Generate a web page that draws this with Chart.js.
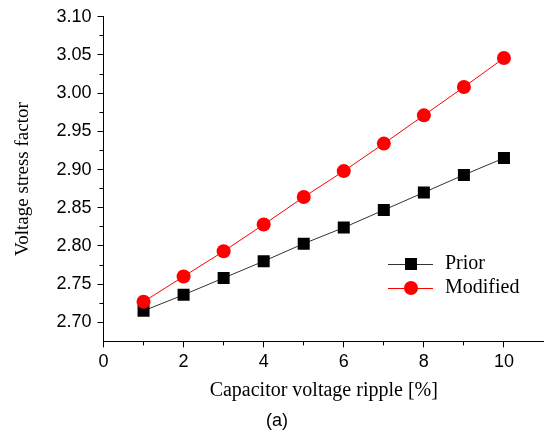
<!DOCTYPE html>
<html>
<head>
<meta charset="utf-8">
<script src="https://cdn.jsdelivr.net/npm/chart.js@4.4.1/dist/chart.umd.min.js"></script>
<style>
  html, body { margin: 0; padding: 0; background: #fff; }
  #wrap { width: 544px; height: 432px; position: relative; }
</style>
</head>
<body>
<div id="wrap"><canvas id="chart"></canvas></div>
<script>
// Data
const rippleX = [1, 2, 3, 4, 5, 6, 7, 8, 9, 10];
const priorY = [2.715, 2.736, 2.758, 2.780, 2.803, 2.824, 2.847, 2.870, 2.893, 2.915];
const modifiedY = [2.727, 2.760, 2.793, 2.828, 2.864, 2.898, 2.934, 2.971, 3.008, 3.046];

// Axis ticks
const xMajorTicks = [0, 2, 4, 6, 8, 10];
const xTickLabels = ['0', '2', '4', '6', '8', '10'];
const xMinorTicks = [1, 3, 5, 7, 9];
const yMajorTicks = [2.70, 2.75, 2.80, 2.85, 2.90, 2.95, 3.00, 3.05, 3.10];
const yTickLabels = ['2.70', '2.75', '2.80', '2.85', '2.90', '2.95', '3.00', '3.05', '3.10'];
const yMinorTicks = [2.725, 2.775, 2.825, 2.875, 2.925, 2.975, 3.025, 3.075];

const TICK_FONT = { family: "'Liberation Sans', Arial, sans-serif", size: 18 };
const SERIF = "'Liberation Serif', 'Times New Roman', serif";

function toPoints(xs, ys) {
  return xs.map((x, i) => ({ x, y: ys[i] }));
}

// small outward minor ticks on both axes
const minorTicks = {
  id: 'minorTicks',
  afterDraw(chart) {
    const { ctx, scales: { x, y } } = chart;
    const align = p => Math.round(p - 0.5) + 0.5;
    ctx.save();
    ctx.strokeStyle = '#000';
    ctx.lineWidth = 1;
    ctx.beginPath();
    xMinorTicks.forEach(v => {
      const px = align(x.getPixelForValue(v));
      ctx.moveTo(px, x.top);
      ctx.lineTo(px, x.top + 4);
    });
    yMinorTicks.forEach(v => {
      const py = align(y.getPixelForValue(v));
      ctx.moveTo(y.right - 4, py);
      ctx.lineTo(y.right, py);
    });
    ctx.stroke();
    ctx.restore();
  }
};

// legend inside the plot, lower right
const insideLegend = {
  id: 'insideLegend',
  afterDraw(chart) {
    const { ctx } = chart;
    const x0 = 388, x1 = 433, mx = 411, tx = 445;
    let ty = 264;
    ctx.save();
    chart.data.datasets.forEach(ds => {
      ctx.strokeStyle = ds.borderColor;
      ctx.lineWidth = 1;
      ctx.beginPath();
      ctx.moveTo(x0, ty + 0.5);
      ctx.lineTo(x1, ty + 0.5);
      ctx.stroke();
      ctx.fillStyle = ds.pointBackgroundColor;
      if (ds.pointStyle === 'rect') {
        ctx.fillRect(mx - 6, ty - 6, 12, 12);
      } else {
        ctx.beginPath();
        ctx.arc(mx, ty, 7, 0, Math.PI * 2);
        ctx.fill();
      }
      ctx.fillStyle = '#000';
      ctx.font = '20px ' + SERIF;
      ctx.textBaseline = 'middle';
      ctx.fillText(ds.label, tx, ty);
      ty += 24;
    });
    ctx.restore();
  }
};

new Chart(document.getElementById('chart'), {
  type: 'scatter',
  data: {
    datasets: [
      {
        label: 'Prior',
        data: toPoints(rippleX, priorY),
        showLine: true,
        borderColor: '#333',
        borderWidth: 1,
        pointStyle: 'rect',
        pointRadius: 8.5,
        pointBackgroundColor: '#000',
        pointBorderWidth: 0,
        order: 1
      },
      {
        label: 'Modified',
        data: toPoints(rippleX, modifiedY),
        showLine: true,
        borderColor: '#ff0000',
        borderWidth: 1,
        pointStyle: 'circle',
        pointRadius: 7,
        pointBackgroundColor: '#ff0000',
        pointBorderWidth: 0,
        order: 0
      }
    ]
  },
  options: {
    responsive: true,
    maintainAspectRatio: false,
    animation: false,
    layout: { autoPadding: false, padding: { left: 10, top: 16, right: 0, bottom: 0 } },
    plugins: {
      legend: { display: false },
      tooltip: { enabled: false },
      title: {
        display: true,
        position: 'bottom',
        text: '(a)',
        color: '#000',
        font: { family: "'Liberation Sans', Arial, sans-serif", size: 18, weight: 'normal' },
        padding: { top: 0, bottom: 0 }
      }
    },
    scales: {
      x: {
        type: 'linear',
        min: 0,
        max: 11,
        afterBuildTicks: s => { s.ticks = xMajorTicks.map(v => ({ value: v })); },
        afterFit: s => { s.height = 69; },
        ticks: {
          color: '#000',
          font: TICK_FONT,
          padding: 4,
          maxRotation: 0,
          callback: v => xTickLabels[xMajorTicks.indexOf(v)]
        },
        grid: { display: true, drawOnChartArea: false, tickLength: 6, color: '#000' },
        border: { display: true, color: '#000', width: 1 },
        title: {
          display: true,
          text: 'Capacitor voltage ripple [%]',
          color: '#000',
          font: { family: SERIF, size: 20 },
          padding: { top: 0, bottom: 8 }
        }
      },
      y: {
        type: 'linear',
        min: 2.675,
        max: 3.10,
        afterBuildTicks: s => { s.ticks = yMajorTicks.map(v => ({ value: v })); },
        afterFit: s => { s.width = 93.5; },
        ticks: {
          color: '#000',
          font: TICK_FONT,
          padding: 6,
          callback: (v, i) => yTickLabels[i]
        },
        grid: { display: true, drawOnChartArea: false, tickLength: 6, color: '#000' },
        border: { display: true, color: '#000', width: 1 },
        title: {
          display: true,
          text: 'Voltage stress factor',
          color: '#000',
          font: { family: SERIF, size: 19 },
          padding: { top: 1.5, bottom: 0 }
        }
      }
    }
  },
  plugins: [minorTicks, insideLegend]
});
</script>
</body>
</html>
